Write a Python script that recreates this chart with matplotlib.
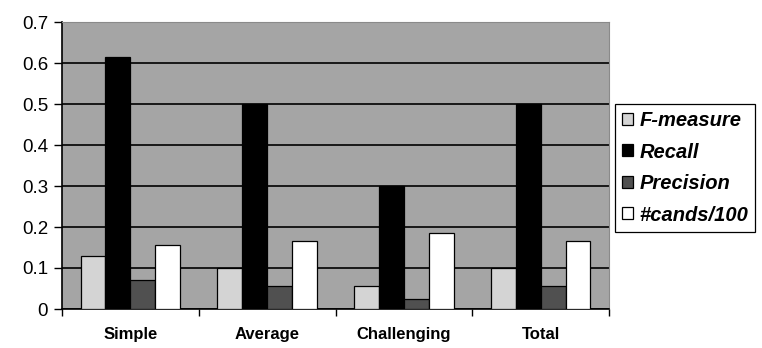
import matplotlib
matplotlib.use("Agg")
import matplotlib.pyplot as plt
import numpy as np

plt.rcParams['font.family'] = ['Liberation Sans', 'DejaVu Sans']

# data
categories = ["Simple", "Average", "Challenging", "Total"]
series_names = ["F-measure", "Recall", "Precision", "#cands/100"]
f_measure = [0.13, 0.10, 0.055, 0.10]
recall = [0.615, 0.50, 0.30, 0.50]
precision = [0.07, 0.055, 0.025, 0.055]
cands = [0.155, 0.165, 0.185, 0.165]

series = [f_measure, recall, precision, cands]
colors = ['#d4d4d4', '#000000', '#505050', '#ffffff']

fig = plt.figure(figsize=(7.62, 3.48), dpi=100)
ax = fig.add_axes([62/762, 1-309/348, (609-62)/762, (309-22)/348])
ax.set_facecolor('#a5a5a5')

x = np.arange(len(categories))
w = 0.182
for i, (vals, col, name) in enumerate(zip(series, colors, series_names)):
    ax.bar(x + (i - 1.5)*w, vals, w, color=col, edgecolor='black', linewidth=0.9,
           label=name, zorder=3)

ax.set_ylim(0, 0.7)
ax.set_xlim(-0.5, len(categories) - 0.5)
ax.set_yticks(np.arange(0, 0.71, 0.1))
ax.set_yticklabels(["0", "0.1", "0.2", "0.3", "0.4", "0.5", "0.6", "0.7"], fontsize=13.5)
ax.yaxis.grid(True, color='black', linewidth=1.2, zorder=1)
ax.set_axisbelow(True)

# category boundaries as ticks, labels centred between them
ax.set_xticks(np.arange(len(categories) + 1) - 0.5)
ax.set_xticklabels([])
ax.set_xticks(x, minor=True)
ax.set_xticklabels(categories, minor=True, fontsize=12, fontweight='bold')
ax.tick_params(axis='x', which='minor', length=0, pad=13)
ax.tick_params(axis='x', which='major', length=5, width=1, direction='out')
ax.tick_params(axis='y', length=6, width=1, direction='out', pad=4)

for s in ['top', 'right']:
    ax.spines[s].set_color('#8a8a8a')
for s in ['left', 'bottom']:
    ax.spines[s].set_color('black')
    ax.spines[s].set_linewidth(1.2)

leg = fig.legend(loc='upper left', bbox_to_anchor=(615/762, 1-104/348),
                 frameon=True, fancybox=False, edgecolor='black', framealpha=1,
                 prop={'style': 'italic', 'size': 14.5, 'weight': 'bold'},
                 handlelength=0.55, handleheight=0.55, handletextpad=0.3,
                 labelspacing=0.62, borderpad=0.35, borderaxespad=0)
leg.get_frame().set_linewidth(0.9)

fig.savefig("out.png", dpi=100)
